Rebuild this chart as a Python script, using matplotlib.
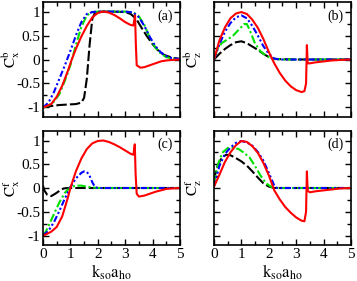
import matplotlib.pyplot as plt
from matplotlib.ticker import MultipleLocator

plt.rcParams['font.family'] = 'Liberation Serif'
plt.rcParams['mathtext.fontset'] = 'stix'

# == Data == #

# (a) C_x^b
red_a_x = [0, 0.1, 0.3, 0.5, 0.7, 0.9, 1.05, 1.2, 1.4, 1.6, 1.8, 2.0, 2.2, 2.4, 2.6, 2.8, 3.0,
           3.2, 3.3, 3.36, 3.39, 3.42, 3.55, 3.7, 3.9, 4.1, 4.3, 4.5, 4.7, 5.0]
red_a_y = [-1, -0.98, -0.93, -0.78, -0.55, -0.25, 0.0, 0.22, 0.48, 0.7, 0.88, 0.97, 1.0, 0.98,
           0.93, 0.86, 0.78, 0.72, 0.71, 0.92, 0.3, -0.12, -0.17, -0.16, -0.12, -0.08, -0.04, -0.02, -0.01, 0]
blue_a_x = [0, 0.2, 0.4, 0.6, 0.8, 1.0, 1.2, 1.4, 1.6, 1.8, 2.0, 2.5, 3.0, 3.3, 3.5, 3.7, 3.9,
            4.1, 4.3, 4.5, 4.7, 5.0]
blue_a_y = [-1, -0.9, -0.68, -0.4, -0.12, 0.18, 0.5, 0.78, 0.95, 0.99, 1.0, 1.0, 1.0, 0.98, 0.88,
            0.7, 0.47, 0.28, 0.15, 0.07, 0.03, 0.01]
green_a_x = [0, 0.2, 0.4, 0.6, 0.8, 1.0, 1.2, 1.4, 1.6, 1.8, 2.0, 2.5, 3.0, 3.3, 3.5, 3.7, 3.9,
             4.1, 4.3, 4.5, 4.7, 5.0]
green_a_y = [-1, -0.96, -0.88, -0.72, -0.44, -0.12, 0.3, 0.68, 0.92, 0.99, 1.0, 1.0, 1.0, 0.98,
             0.9, 0.72, 0.45, 0.25, 0.12, 0.05, 0.02, 0.01]
black_a_x = [0, 0.3, 0.6, 0.9, 1.2, 1.4, 1.5, 1.6, 1.7, 1.8, 1.9, 2.0, 2.5, 3.0, 3.2, 3.4, 3.6,
             3.8, 4.0, 4.2, 4.4, 4.7, 5.0]
black_a_y = [-1, -0.97, -0.95, -0.94, -0.93, -0.9, -0.8, -0.4, 0.3, 0.85, 0.98, 1.0, 1.0, 0.99,
             0.95, 0.85, 0.66, 0.48, 0.32, 0.19, 0.1, 0.04, 0.01]

# (b) C_z^b
red_b_x = [0, 0.2, 0.4, 0.6, 0.8, 1.0, 1.2, 1.4, 1.6, 1.8, 2.0, 2.2, 2.4, 2.6, 2.8, 3.0, 3.2,
           3.3, 3.36, 3.39, 3.42, 3.5, 3.7, 4.0, 4.3, 4.6, 5.0]
red_b_y = [0, 0.4, 0.67, 0.86, 0.96, 0.99, 0.95, 0.83, 0.66, 0.43, 0.16, -0.08, -0.28, -0.44,
           -0.56, -0.64, -0.68, -0.66, -0.5, 0.3, -0.08, -0.08, -0.06, -0.04, -0.02, -0.01, 0]
blue_b_x = [0, 0.2, 0.4, 0.6, 0.8, 1.0, 1.2, 1.4, 1.6, 1.8, 2.0, 2.2, 2.4, 3, 4, 5]
blue_b_y = [0, 0.32, 0.58, 0.76, 0.88, 0.92, 0.86, 0.7, 0.5, 0.28, 0.12, 0.02, 0, 0, 0, 0]
green_b_x = [0, 0.15, 0.3, 0.5, 0.7, 0.9, 1.1, 1.2, 1.3, 1.5, 1.7, 1.9, 2.1, 2.5, 3, 4, 5]
green_b_y = [0, 0.25, 0.35, 0.42, 0.5, 0.62, 0.74, 0.74, 0.62, 0.33, 0.17, 0.08, 0.02, 0, 0, 0, 0]
black_b_x = [0, 0.2, 0.4, 0.6, 0.8, 1.0, 1.2, 1.4, 1.6, 1.8, 2.0, 2.2, 3, 4, 5]
black_b_y = [0, 0.12, 0.22, 0.3, 0.36, 0.38, 0.34, 0.27, 0.2, 0.12, 0.05, 0.01, 0, 0, 0]

# (c) C_x^f
red_c_x = [0, 0.1, 0.3, 0.5, 0.7, 0.9, 1.0, 1.2, 1.4, 1.6, 1.8, 2.0, 2.2, 2.4, 2.6, 2.8, 3.0,
           3.2, 3.3, 3.35, 3.38, 3.42, 3.5, 3.7, 3.9, 4.1, 4.3, 4.5, 4.7, 5.0]
red_c_y = [-1, -0.98, -0.92, -0.82, -0.6, -0.22, 0, 0.35, 0.62, 0.82, 0.94, 0.99, 1.0, 0.97,
           0.92, 0.86, 0.79, 0.72, 0.7, 0.92, 0.3, -0.12, -0.18, -0.16, -0.12, -0.08, -0.05, -0.02, -0.01, 0]
blue_c_x = [0, 0.2, 0.4, 0.6, 0.8, 1.0, 1.2, 1.4, 1.5, 1.6, 1.7, 1.8, 1.9, 2.0, 3, 4, 5]
blue_c_y = [-1, -0.9, -0.72, -0.48, -0.22, 0.02, 0.2, 0.32, 0.35, 0.34, 0.26, 0.12, 0.02, 0, 0, 0, 0]
green_c_x = [0, 0.1, 0.2, 0.4, 0.6, 0.8, 1.0, 1.2, 1.4, 1.6, 1.8, 2.0, 3, 4, 5]
green_c_y = [-1, -0.92, -0.8, -0.55, -0.3, -0.1, 0.02, 0.05, 0.05, 0.03, 0.01, 0, 0, 0, 0]
black_c_x = [0, 0.05, 0.15, 0.3, 0.45, 0.6, 0.75, 0.9, 1.2, 2, 3, 4, 5]
black_c_y = [0.05, -0.05, -0.14, -0.17, -0.12, -0.06, -0.01, 0, 0, 0, 0, 0, 0]

# (d) C_z^f
red_d_x = [0, 0.2, 0.4, 0.6, 0.8, 1.0, 1.2, 1.4, 1.6, 1.8, 2.0, 2.2, 2.4, 2.6, 2.8, 3.0, 3.2,
           3.3, 3.36, 3.39, 3.42, 3.5, 3.7, 4.0, 4.3, 4.6, 5.0]
red_d_y = [0.03, 0.28, 0.55, 0.75, 0.9, 0.99, 0.97, 0.88, 0.74, 0.53, 0.27, -0.05, -0.24, -0.4,
           -0.52, -0.62, -0.69, -0.7, -0.5, 0.35, -0.06, -0.09, -0.07, -0.05, -0.03, -0.01, 0]
blue_d_x = [0, 0.2, 0.4, 0.6, 0.8, 1.0, 1.2, 1.4, 1.6, 1.8, 2.0, 2.2, 2.3, 3, 4, 5]
blue_d_y = [0.03, 0.47, 0.72, 0.85, 0.95, 0.99, 0.96, 0.89, 0.76, 0.58, 0.32, 0.05, 0, 0, 0, 0]
green_d_x = [0, 0.05, 0.15, 0.3, 0.5, 0.7, 0.9, 1.1, 1.3, 1.5, 1.7, 1.9, 2.1, 2.3, 3, 4, 5]
green_d_y = [0.1, 0.25, 0.5, 0.74, 0.84, 0.85, 0.82, 0.74, 0.64, 0.46, 0.26, 0.1, 0.02, 0, 0, 0, 0]
black_d_x = [0, 0.05, 0.15, 0.3, 0.45, 0.6, 0.8, 1.0, 1.2, 1.4, 1.6, 1.8, 2.0, 2.2, 3, 4, 5]
black_d_y = [0.15, 0.3, 0.5, 0.65, 0.7, 0.69, 0.63, 0.56, 0.47, 0.35, 0.22, 0.1, 0.03, 0, 0, 0, 0]

ylabels = [r'$\mathrm{C}_{\mathrm{x}}^{\mathrm{b}}$', r'$\mathrm{C}_{\mathrm{z}}^{\mathrm{b}}$',
           r'$\mathrm{C}_{\mathrm{x}}^{\mathrm{f}}$', r'$\mathrm{C}_{\mathrm{z}}^{\mathrm{f}}$']
panel_tags = ['(a)', '(b)', '(c)', '(d)']
xlabel = r'$\mathrm{k_{so}a_{ho}}$'

panels = [
    [(black_a_x, black_a_y), (green_a_x, green_a_y), (blue_a_x, blue_a_y), (red_a_x, red_a_y)],
    [(black_b_x, black_b_y), (green_b_x, green_b_y), (blue_b_x, blue_b_y), (red_b_x, red_b_y)],
    [(black_c_x, black_c_y), (green_c_x, green_c_y), (blue_c_x, blue_c_y), (red_c_x, red_c_y)],
    [(black_d_x, black_d_y), (green_d_x, green_d_y), (blue_d_x, blue_d_y), (red_d_x, red_d_y)],
]

styles = [
    {'color': 'black', 'linestyle': (0, (5, 1.5))},
    {'color': '#00e000', 'linestyle': (0, (4, 1.3, 1, 1.3))},
    {'color': '#0000ff', 'linestyle': (0, (3, 1.2, 1, 1.2, 1, 1.2))},
    {'color': '#ff0000', 'linestyle': '-'},
]

# == Figure == #

fig = plt.figure(figsize=(3.57, 2.81), dpi=100)
w, h = 0.3838, 0.4093
positions = [
    [0.1204, 0.5836, w, h],
    [0.5994, 0.5836, w, h],
    [0.1204, 0.1281, w, 0.4057],
    [0.5994, 0.1281, w, 0.4057],
]

for i in range(4):
    ax = fig.add_axes(positions[i])
    for (xs, ys), st in zip(panels[i], styles):
        ax.plot(xs, ys, linewidth=1.5, **st)
    ax.set_xlim(0, 5)
    ax.set_ylim(-1.2, 1.2)
    ax.xaxis.set_major_locator(MultipleLocator(1))
    ax.xaxis.set_minor_locator(MultipleLocator(0.5))
    ax.yaxis.set_major_locator(MultipleLocator(0.5))
    ax.yaxis.set_minor_locator(MultipleLocator(0.25))
    ax.tick_params(which='both', direction='in', top=True, right=True, width=1, labelsize=11, pad=2)
    ax.tick_params(which='major', length=4)
    ax.tick_params(which='minor', length=3)
    for sp in ax.spines.values():
        sp.set_linewidth(1.2)
    ax.set_yticks([-1, -0.5, 0, 0.5, 1])
    ax.set_yticklabels(['-1', '-0.5', '0', '0.5', '1'])
    ax.set_ylabel(ylabels[i], fontsize=11)
    if i % 2 == 1:
        ax.tick_params(labelleft=False)
        ax.yaxis.set_label_coords(-0.07, 0.5)
    else:
        ax.yaxis.set_label_coords(-0.15, 0.5)
    if i < 2:
        ax.tick_params(labelbottom=False)
    else:
        ax.set_xlabel(xlabel, fontsize=12, labelpad=1)
    ax.text(0.89, 0.88, panel_tags[i], transform=ax.transAxes, ha='center', va='center', fontsize=10)

fig.savefig('out.png', dpi=100)
